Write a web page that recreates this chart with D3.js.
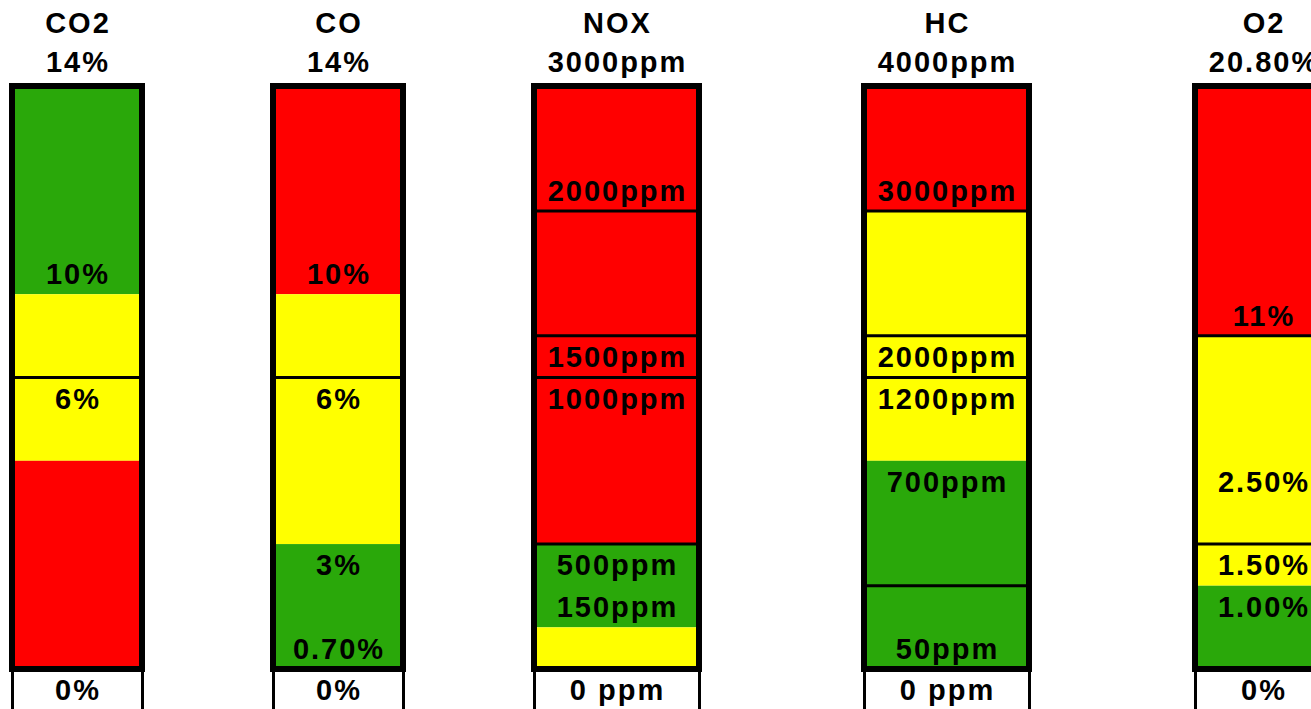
<html>
<head>
  <title>Emission levels</title>
  <script src="https://d3js.org/d3.v7.min.js"></script>
  <style>
    body { margin: 0; background: #fff; }
    text {
      font-family: "Liberation Sans", Arial, sans-serif;
      font-weight: bold;
      font-size: 29px;
      letter-spacing: 2px;
      fill: #000;
    }
  </style>
</head>
<body>
  <script>
// gases and their column headers
var gases = ["CO2", "CO", "NOX", "HC", "O2"];
var maxLabels = ["14%", "14%", "3000ppm", "4000ppm", "20.80%"];
var zeroLabels = ["0%", "0%", "0 ppm", "0 ppm", "0%"];

// colour bands per gas: [from row, to row, level]  (rows counted from the bottom, 14 rows)
var bands = [
  [[9, 14, "good"], [5, 9, "warn"], [0, 5, "bad"]],
  [[9, 14, "bad"], [3, 9, "warn"], [0, 3, "good"]],
  [[3, 14, "bad"], [1, 3, "good"], [0, 1, "warn"]],
  [[11, 14, "bad"], [5, 11, "warn"], [0, 5, "good"]],
  [[8, 14, "bad"], [2, 8, "warn"], [0, 2, "good"]]
];

// thin separator lines per gas (row boundaries)
var dividers = [[7], [7], [11, 8, 7, 3], [11, 8, 7, 2], [8, 3]];

// threshold labels per gas: [row, text]
var thresholds = [
  [[9, "10%"], [6, "6%"]],
  [[9, "10%"], [6, "6%"], [2, "3%"], [0, "0.70%"]],
  [[11, "2000ppm"], [7, "1500ppm"], [6, "1000ppm"], [2, "500ppm"], [1, "150ppm"]],
  [[11, "3000ppm"], [7, "2000ppm"], [6, "1200ppm"], [4, "700ppm"], [0, "50ppm"]],
  [[8, "11%"], [4, "2.50%"], [2, "1.50%"], [1, "1.00%"]]
];

var width = 1311,
    height = 709;

// column edges (centre of the thick border)
var colEdges = [[12, 142], [273, 403], [534, 699], [864, 1029], [1195, 1331]];

var color = d3.scaleOrdinal()
  .domain(["good", "warn", "bad"])
  .range(["#2aa80a", "#ffff00", "#ff0000"]);

var y = d3.scaleLinear()
  .domain([0, 14])
  .range([669, 86]);

var rowH = y(0) - y(1);

var svg = d3.select("body")
  .append("svg")
  .attr("width", width)
  .attr("height", height);

var cols = svg.selectAll("g.col")
  .data(gases)
  .enter()
  .append("g")
  .attr("class", "col");

cols.each(function(name, i){
  var g = d3.select(this);
  var x0 = colEdges[i][0], x1 = colEdges[i][1];
  var cx = (x0 + x1) / 2;

  g.selectAll("rect.band")
    .data(bands[i])
    .enter()
    .append("rect")
    .attr("class", "band")
    .attr("x", x0)
    .attr("width", x1 - x0)
    .attr("y", function(d){ return y(d[1]); })
    .attr("height", function(d){ return y(d[0]) - y(d[1]); })
    .attr("fill", function(d){ return color(d[2]); });

  g.selectAll("line.div")
    .data(dividers[i])
    .enter()
    .append("line")
    .attr("class", "div")
    .attr("x1", x0).attr("x2", x1)
    .attr("y1", function(d){ return y(d); })
    .attr("y2", function(d){ return y(d); })
    .attr("stroke", "#000")
    .attr("stroke-width", 3);

  // thick frame
  g.append("rect")
    .attr("x", x0)
    .attr("y", y(14))
    .attr("width", x1 - x0)
    .attr("height", y(0) - y(14))
    .attr("fill", "none")
    .attr("stroke", "#000")
    .attr("stroke-width", 6);

  // bottom "zero" cell sides
  [x0 + 0.5, x1 + 0.5].forEach(function(x){
    g.append("line")
      .attr("x1", x).attr("x2", x)
      .attr("y1", y(0)).attr("y2", height)
      .attr("stroke", "#000")
      .attr("stroke-width", 3);
  });

  // label sits in the row just above its row boundary
  g.selectAll("text.lbl")
    .data(thresholds[i])
    .enter()
    .append("text")
    .attr("class", "lbl")
    .attr("x", cx + 1)
    .attr("y", function(d){ return y(d[0]) - rowH / 2 + 10.5; })
    .attr("text-anchor", "middle")
    .text(function(d){ return d[1]; });

  g.append("text")
    .attr("x", cx + 1)
    .attr("y", y(0) + rowH / 2 + 10.5)
    .attr("text-anchor", "middle")
    .text(zeroLabels[i]);

  g.append("text")
    .attr("x", cx + 1)
    .attr("y", y(14) - rowH / 2 + 7)
    .attr("text-anchor", "middle")
    .text(maxLabels[i]);

  g.append("text")
    .attr("x", cx + 1)
    .attr("y", y(14) - rowH * 1.5 + 9)
    .attr("text-anchor", "middle")
    .text(name);
});
  </script>
</body>
</html>
